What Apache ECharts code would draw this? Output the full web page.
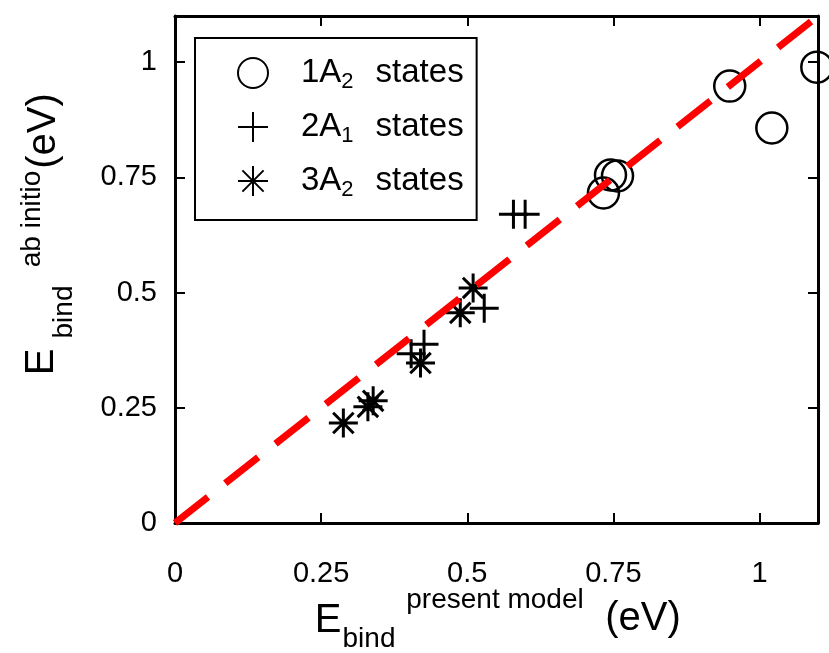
<!DOCTYPE html>
<html>
<head>
<meta charset="utf-8">
<script src="https://cdn.jsdelivr.net/npm/echarts@6/dist/echarts.min.js"></script>
<style>
  html, body { margin: 0; padding: 0; background: #fff; }
  #chart { width: 829px; height: 653px; }
</style>
</head>
<body>
<div id="chart"></div>
<script>
// Binding energies: present model (x) vs ab initio (y), in eV
const states1A2 = [[0.733, 0.716], [0.745, 0.755], [0.757, 0.753], [0.949, 0.948], [1.021, 0.857], [1.098, 0.989]];
const states2A1 = [[0.404, 0.367], [0.426, 0.388], [0.529, 0.466], [0.579, 0.670], [0.599, 0.670]];
const states3A2 = [[0.288, 0.217], [0.330, 0.252], [0.339, 0.265], [0.420, 0.347], [0.488, 0.456], [0.510, 0.510]];
const diagonal = [[0, 0], [1.1, 1.1]];
const axisMin = 0, axisMax = 1.1, tickStep = 0.25;
const legendNames = ['1A2 states', '2A1 states', '3A2 states'];
const legendRich = {
  '1A2 states': '{g|}{n|1A}{s|2}{w|}{n|states}',
  '2A1 states': '{g|}{n|2A}{s|1}{w|}{n|states}',
  '3A2 states': '{g|}{n|3A}{s|2}{w|}{n|states}'
};

const FONT = 'Liberation Sans, Arial, Helvetica, sans-serif';
const PLUS = 'path://M15,0L15,30M0,15L30,15';
const STAR = 'path://M15,0L15,30M0,15L30,15M4.4,4.4L25.6,25.6M25.6,4.4L4.4,25.6';

const chart = echarts.init(document.getElementById('chart'));

const frameAxis = (extra) => Object.assign({
  type: 'value', min: axisMin, max: axisMax, interval: tickStep,
  axisLine: { show: true, onZero: false, lineStyle: { color: '#000', width: 3 } },
  axisTick: { show: true, inside: true, length: 10, lineStyle: { color: '#000', width: 2 } },
  splitLine: { show: false }
}, extra);

const strokeOnly = (w) => ({ color: 'rgba(0,0,0,0)', borderColor: '#000', borderWidth: w, opacity: 1 });

chart.setOption({
  animation: false,
  backgroundColor: '#fff',
  grid: { left: 175, right: 11, top: 16, bottom: 130, containLabel: false },
  xAxis: [
    frameAxis({ position: 'bottom',
      axisLabel: { show: true, showMaxLabel: false, margin: 36, fontSize: 29, color: '#000', fontFamily: FONT } }),
    frameAxis({ position: 'top', axisLabel: { show: false } })
  ],
  yAxis: [
    frameAxis({ position: 'left',
      axisLabel: { show: true, showMaxLabel: false, margin: 18, fontSize: 29, color: '#000', fontFamily: FONT } }),
    frameAxis({ position: 'right', axisLabel: { show: false } })
  ],
  legend: {
    data: legendNames,
    orient: 'vertical',
    left: 195, top: 38,
    padding: [15, 13, 19, 42],
    itemWidth: 70, itemHeight: 30,
    itemGap: 14,
    borderColor: '#000', borderWidth: 2,
    backgroundColor: '#fff',
    formatter: (name) => legendRich[name],
    textStyle: {
      color: '#000', fontFamily: FONT,
      rich: {
        g: { width: 8, lineHeight: 36 },
        w: { width: 22, lineHeight: 36 },
        n: { fontSize: 33, fontFamily: FONT, color: '#000', lineHeight: 36 },
        s: { fontSize: 22, fontFamily: FONT, color: '#000', lineHeight: 36, padding: [18, 0, 0, 0] }
      }
    }
  },
  series: [
    { name: '1A2 states', type: 'scatter', data: states1A2, symbol: 'circle', symbolSize: 31,
      itemStyle: strokeOnly(2.5), z: 3 },
    { name: '2A1 states', type: 'scatter', data: states2A1, symbol: PLUS, symbolSize: 29,
      itemStyle: strokeOnly(3), z: 3 },
    { name: '3A2 states', type: 'scatter', data: states3A2, symbol: STAR, symbolSize: 29,
      itemStyle: strokeOnly(3), z: 3 },
    { name: 'diagonal', type: 'line', data: diagonal, symbol: 'none', silent: true,
      lineStyle: { color: '#ff0000', width: 7, type: [42, 22], cap: 'butt' }, z: 4 }
  ],
  graphic: [
    // x-axis title
    { type: 'text', x: 328, y: 621, style: { text: 'E', font: '40px ' + FONT, fill: '#000', align: 'center', verticalAlign: 'middle' } },
    { type: 'text', x: 369, y: 639, style: { text: 'bind', font: '28px ' + FONT, fill: '#000', align: 'center', verticalAlign: 'middle' } },
    { type: 'text', x: 495, y: 600, style: { text: 'present model', font: '28px ' + FONT, fill: '#000', align: 'center', verticalAlign: 'middle' } },
    { type: 'text', x: 643, y: 619, style: { text: '(eV)', font: '40px ' + FONT, fill: '#000', align: 'center', verticalAlign: 'middle' } },
    // y-axis title
    { type: 'text', x: 42, y: 362, rotation: Math.PI / 2, style: { text: 'E', font: '40px ' + FONT, fill: '#000', align: 'center', verticalAlign: 'middle' } },
    { type: 'text', x: 64, y: 312, rotation: Math.PI / 2, style: { text: 'bind', font: '28px ' + FONT, fill: '#000', align: 'center', verticalAlign: 'middle' } },
    { type: 'text', x: 32, y: 219, rotation: Math.PI / 2, style: { text: 'ab initio', font: '28px ' + FONT, fill: '#000', align: 'center', verticalAlign: 'middle' } },
    { type: 'text', x: 44, y: 131, rotation: Math.PI / 2, style: { text: '(eV)', font: '40px ' + FONT, fill: '#000', align: 'center', verticalAlign: 'middle' } }
  ]
});
</script>
</body>
</html>
